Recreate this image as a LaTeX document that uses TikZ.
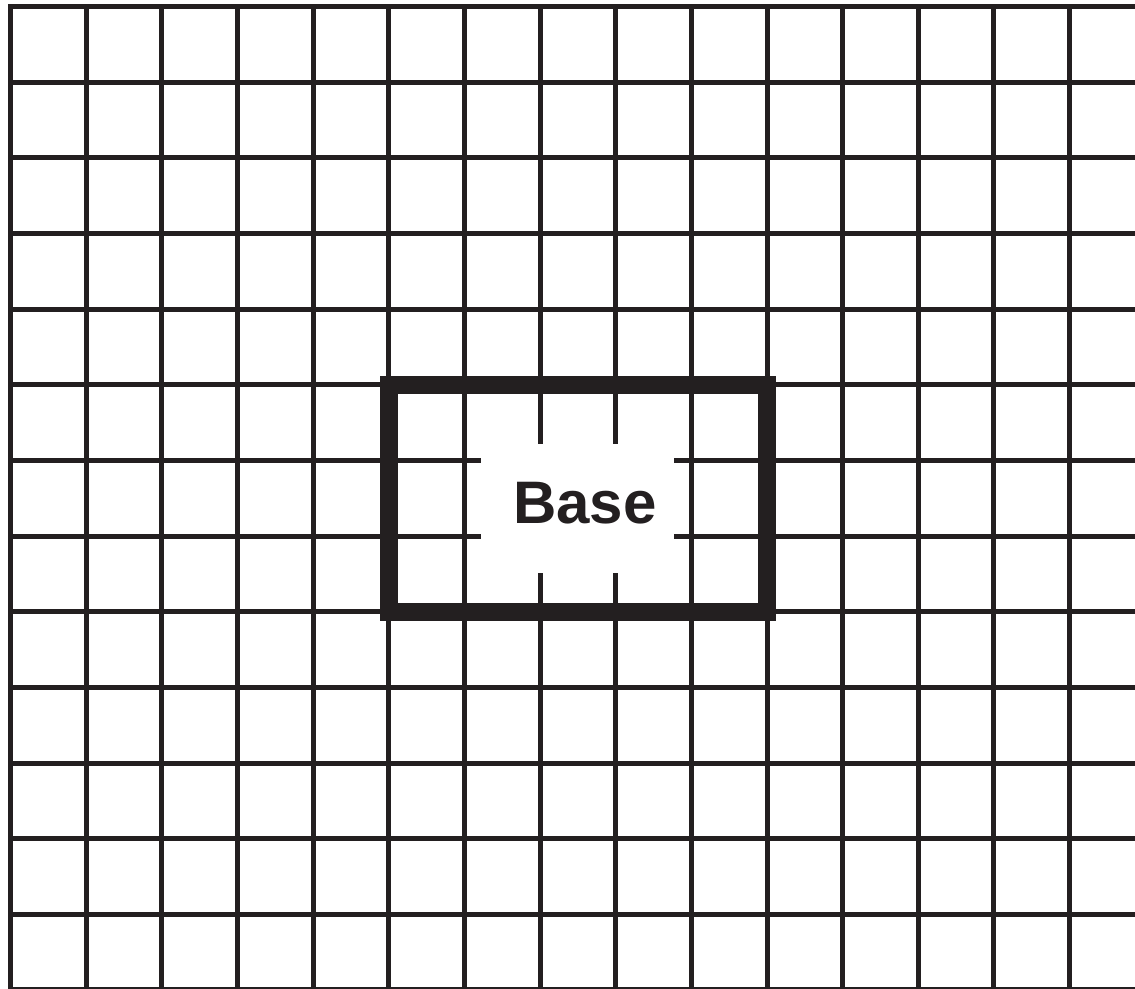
\documentclass[tikz,border=0pt]{standalone}
\usepackage{fontspec}
\setmainfont{Liberation Sans}
\definecolor{ink}{HTML}{231F20}
\begin{document}
\begin{tikzpicture}[x=1pt,y=-1pt,
  gridline/.style={draw=ink,line width=5pt},
  basebox/.style={draw=ink,line width=18pt},
  baselabel/.style={font=\fontsize{60}{60}\selectfont\bfseries,text=ink,inner sep=0pt,anchor=base}]
\useasboundingbox (0,0) rectangle (1135,988);
\clip (0,0) rectangle (1135,988);
% grid
\foreach \k in {0,...,14}{
  \draw[gridline] ({10.5+75.65*\k},4) -- ({10.5+75.65*\k},995);
}
\foreach \k in {0,...,13}{
  \draw[gridline] (8,{6.5+75.65*\k}) -- (1140,{6.5+75.65*\k});
}
% white label area
\fill[white] (481,444) rectangle (674,573);
% base frame
\draw[basebox] (388.7,384.8) rectangle (767,611.7);
\node[baselabel] (base) at (585,523) {Base};
\end{tikzpicture}
\end{document}
